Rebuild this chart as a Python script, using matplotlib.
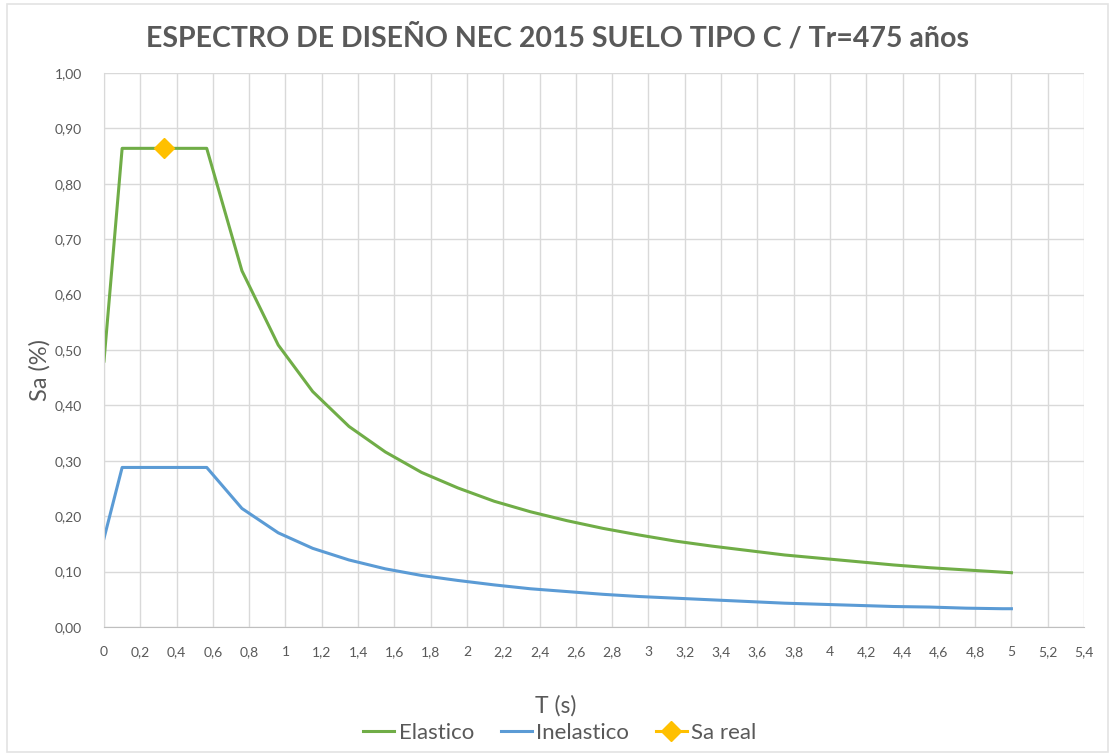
import matplotlib
matplotlib.use("Agg")
import matplotlib.pyplot as plt
from matplotlib.ticker import FuncFormatter, MultipleLocator
from matplotlib.patches import Rectangle

# Data
T = [0, 0.1, 0.566, 0.76, 0.96, 1.15, 1.35, 1.55, 1.75, 1.95, 2.15, 2.35, 2.55,
     2.75, 2.95, 3.15, 3.35, 3.55, 3.75, 3.95, 4.15, 4.35, 4.55, 4.75, 4.95, 5.0]
elastico = [0.480, 0.864, 0.864, 0.643, 0.509, 0.425, 0.362, 0.316, 0.279, 0.251,
            0.227, 0.208, 0.192, 0.178, 0.166, 0.155, 0.146, 0.138, 0.130, 0.124,
            0.118, 0.112, 0.107, 0.103, 0.099, 0.098]
inelastico = [0.160, 0.288, 0.288, 0.214, 0.170, 0.142, 0.121, 0.105, 0.093, 0.084,
              0.076, 0.069, 0.064, 0.059, 0.055, 0.052, 0.049, 0.046, 0.043, 0.041,
              0.039, 0.037, 0.036, 0.034, 0.033, 0.033]
sa_real_T = [0.33]
sa_real = [0.864]

title = "ESPECTRO DE DISEÑO NEC 2015 SUELO TIPO C / Tr=475 años"

plt.rcParams['font.family'] = ['Lato', 'DejaVu Sans']
txt = '#595959'

W, H = 1111, 755
fig = plt.figure(figsize=(W / 100, H / 100), dpi=100)
fig.patch.set_facecolor('white')
# chart border
fig.patches.append(Rectangle((7 / W, 1 - 752 / H), (1108 - 7) / W, (752 - 4) / H,
                             transform=fig.transFigure, fill=False,
                             edgecolor='#E3E3E3', linewidth=1.2))

ax = fig.add_axes([104 / W, 1 - 627 / H, (1084 - 104) / W, (627 - 73) / H])
ax.set_xlim(0, 5.4)
ax.set_ylim(0, 1.0)
ax.xaxis.set_major_locator(MultipleLocator(0.2))
ax.yaxis.set_major_locator(MultipleLocator(0.1))


def fx(v, p):
    s = f"{v:.1f}".rstrip('0').rstrip('.')
    return s.replace('.', ',')


def fy(v, p):
    return f"{v:.2f}".replace('.', ',')


ax.xaxis.set_major_formatter(FuncFormatter(fx))
ax.yaxis.set_major_formatter(FuncFormatter(fy))
ax.grid(True, color='#D9D9D9', linewidth=1.0)
ax.set_axisbelow(True)
for s in ['top', 'right']:
    ax.spines[s].set_visible(False)
ax.spines['left'].set_color('#D9D9D9')
ax.spines['bottom'].set_color('#BFBFBF')
ax.tick_params(length=0, labelsize=10, colors=txt, pad=14)
ax.tick_params(axis='y', pad=16)

l1, = ax.plot(T, elastico, color='#70AD47', linewidth=2.2, label='Elastico')
l2, = ax.plot(T, inelastico, color='#5B9BD5', linewidth=2.2, label='Inelastico')
l3, = ax.plot(sa_real_T, sa_real, color='#FFC000', marker='D', markersize=10,
              linestyle='-', linewidth=2.2, label='Sa real', zorder=5)

fig.text(557 / W, 1 - 38 / H, title, ha='center', va='center', fontsize=20.5,
         fontweight='bold', color=txt)
fig.text(40 / W, 1 - 370 / H, 'Sa (%)', rotation=90, ha='center', va='center',
         fontsize=17, color=txt)
fig.text(556 / W, 1 - 706 / H, 'T (s)', ha='center', va='center', fontsize=16.5,
         color=txt)
fig.legend(handles=[l1, l2, l3], loc='center', bbox_to_anchor=(560 / W, 1 - 733 / H),
           ncol=3, frameon=False, fontsize=16, labelcolor=txt, handlelength=1.4,
           handletextpad=0.2, columnspacing=1.2, borderaxespad=0)

fig.savefig('out.png', dpi=100, facecolor='white')
